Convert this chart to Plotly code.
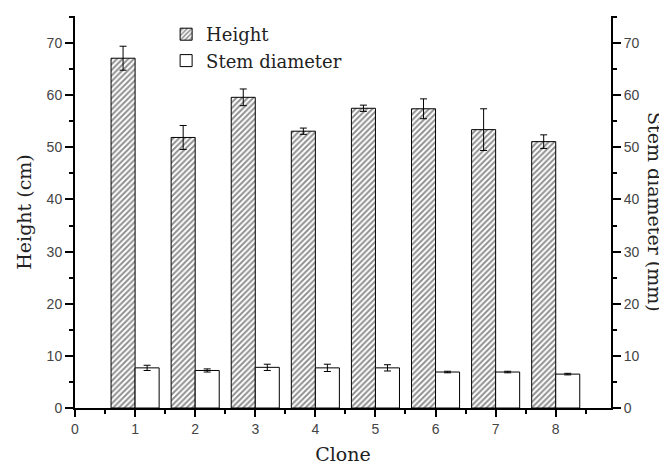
import plotly.graph_objects as go

clones = [1, 2, 3, 4, 5, 6, 7, 8]
height = [67.1, 51.9, 59.6, 53.1, 57.5, 57.4, 53.4, 51.1]
height_err = [2.3, 2.3, 1.6, 0.6, 0.6, 1.9, 4.0, 1.3]
stem = [7.7, 7.2, 7.8, 7.7, 7.7, 6.9, 6.9, 6.5]
stem_err = [0.5, 0.3, 0.6, 0.7, 0.6, 0.15, 0.15, 0.15]

serif = "DejaVu Serif"
sans = "Liberation Sans"

fig = go.Figure()
fig.add_trace(go.Bar(
    x=clones, y=height, name="Height", width=0.4, offset=-0.4,
    marker=dict(color="white", line=dict(color="black", width=1),
                pattern=dict(shape="/", fgcolor="#222", bgcolor="white", size=4, solidity=0.5)),
    error_y=dict(type="data", array=height_err, color="black", thickness=1, width=3.5),
    yaxis="y",
))
fig.add_trace(go.Bar(
    x=clones, y=stem, name="Stem diameter", width=0.4, offset=0,
    marker=dict(color="white", line=dict(color="black", width=1)),
    error_y=dict(type="data", array=stem_err, color="black", thickness=1, width=3.5),
    yaxis="y2",
))

axis_common = dict(showgrid=False, zeroline=False, showline=True, linecolor="black", linewidth=2,
                   ticks="outside", tickcolor="black", tickwidth=1.5, automargin=False,
                   tickfont=dict(family=sans, size=14, color="#444"))

fig.update_layout(
    width=659, height=462,
    margin=dict(l=67, r=56, t=8, b=62, autoexpand=False),
    plot_bgcolor="white", paper_bgcolor="white",
    barmode="overlay",
    showlegend=True,
    legend=dict(x=0.17, y=1.0, xanchor="left", yanchor="top",
                font=dict(family=serif, size=18, color="#222"),
                bgcolor="rgba(0,0,0,0)", tracegroupgap=4),
    xaxis=dict(range=[0, 8.92], tickvals=list(range(0, 9)), ticklen=7,
               minor=dict(dtick=0.5, ticklen=4, tickcolor="black", ticks="outside"),
               title=dict(text="Clone", font=dict(family=serif, size=19, color="#222"), standoff=12),
               **axis_common),
    yaxis=dict(range=[0, 75.2], tickvals=list(range(0, 80, 10)), ticklen=8,
               minor=dict(dtick=5, ticklen=4, tickcolor="black", ticks="outside"),
               title=dict(text="Height (cm)", font=dict(family=serif, size=19, color="#222"), standoff=10),
               **axis_common),
    yaxis2=dict(range=[0, 75.2], tickvals=list(range(0, 80, 10)), ticklen=8, overlaying="y", side="right",
                minor=dict(dtick=5, ticklen=4, tickcolor="black", ticks="outside"),
                **axis_common),
    annotations=[dict(text="Stem diameter (mm)", textangle=90, xref="paper", yref="paper",
                      x=1.082, y=0.5, xanchor="center", yanchor="middle", showarrow=False,
                      font=dict(family=serif, size=19, color="#222"))],
)

fig.write_html("out.html")
